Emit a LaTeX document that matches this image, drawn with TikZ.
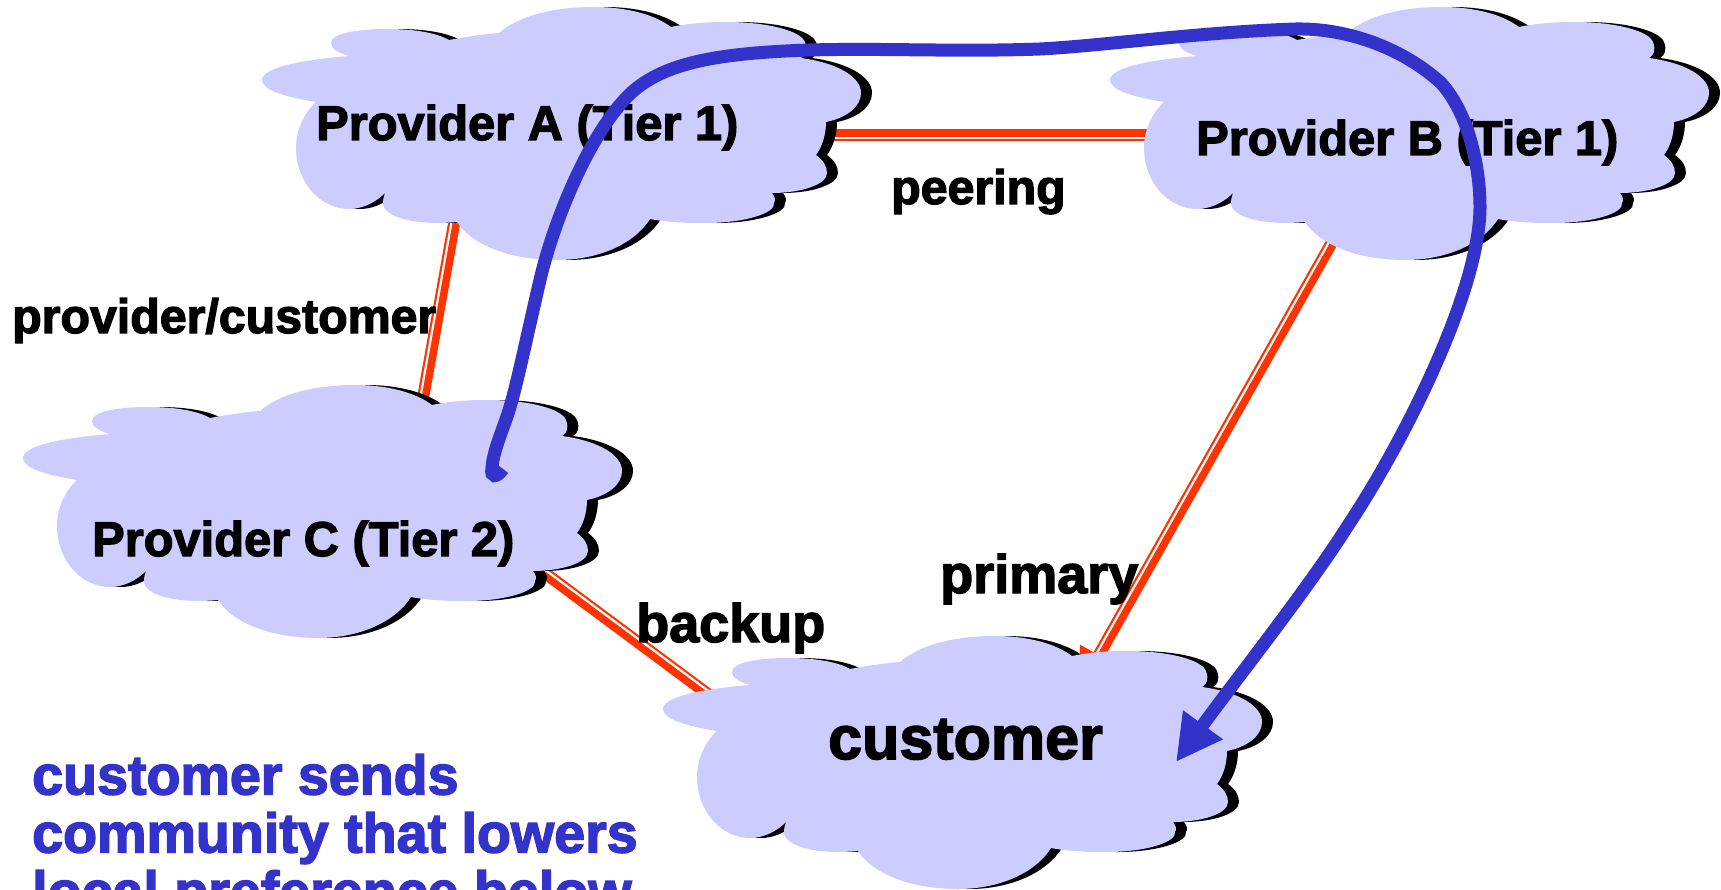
\documentclass[tikz,border=0pt]{standalone}
\usepackage{fontspec}
\setmainfont{Liberation Sans}[BoldFeatures={FakeBold=2.6}]
\usetikzlibrary{arrows.meta}
\definecolor{cloudfill}{RGB}{204,204,255}
\definecolor{linkred}{RGB}{255,51,0}
\definecolor{routeblue}{RGB}{51,51,204}
\tikzset{>=stealth}
\newcommand{\cloudoutline}{(349,56) .. controls (336,52) and (331,48) .. (331,43) .. controls (331,34) and (355,29) .. (387,29) .. controls (415,29) and (437,33) .. (449,40) .. controls (465,37) and (485,34) .. (499,33) .. controls (520,15) and (555,7) .. (594,7) .. controls (628,7) and (655,15) .. (671,27) .. controls (690,23) and (708,22) .. (727,22) .. controls (765,22) and (800,30) .. (805,42) .. controls (808,50) and (806,55) .. (801,58) .. controls (838,63) and (861,77) .. (861,93) .. controls (861,107) and (846,118) .. (826,122) .. controls (826,135) and (822,147) .. (816,155) .. controls (823,160) and (827,166) .. (827,173) .. controls (827,185) and (800,193) .. (772,193) .. controls (775,197) and (776,200) .. (774,203) .. controls (776,213) and (745,223) .. (706,223) .. controls (685,223) and (665,222) .. (650,219) .. controls (635,243) and (600,260) .. (557,260) .. controls (510,260) and (472,245) .. (457,222) .. controls (415,226) and (383,217) .. (383,203) .. controls (383,199) and (384,196) .. (385,193) .. controls (375,203) and (362,209) .. (349,209) .. controls (320,209) and (296,182) .. (296,148) .. controls (296,130) and (304,113) .. (316,102) .. controls (285,97) and (262,90) .. (262,80) .. controls (262,68) and (300,60) .. (349,56) -- cycle}
\tikzset{
  netcloud/.pic={
    \fill[black, shift={(11,0)}] \cloudoutline;
    \fill[cloudfill] \cloudoutline;
  },
  link/.style={draw=linkred, line width=12pt, postaction={draw=white, -, line width=2.2pt, transform canvas={shift={#1}}}},
  lbl/.style={anchor=base west, inner sep=0pt, font=\bfseries\fontsize{#1}{#1}\selectfont},
  route/.style={draw=routeblue, line width=13pt, -{Triangle[length=46pt, width=46pt, fill=routeblue]}}
}
\begin{document}
\begin{tikzpicture}[x=1pt, y=-1pt]
\clip (0,0) rectangle (1721,890);
\coordinate (aeast) at (800,135);
\coordinate (bwest) at (1200,135);
\coordinate (asouth) at (457,207);
\coordinate (cnorth) at (420,415);
\coordinate (bsouth) at (1340,228);
\coordinate (custnorth) at (1079,690);
\coordinate (ceast) at (530,562);
\coordinate (custwest) at (720,703);
\coordinate (routestart) at (503,469);
\coordinate (routeend) at (1176,762);
\draw[link={(0,2.8)}] (aeast) -- (bwest);
\draw[link={(-2.7,-0.5)}] (asouth) -- (cnorth);
\draw[link={(-2.3,-1.35)}, -{Triangle[length=40pt, width=40pt]}] (bsouth) -- (custnorth);
\draw[link={(1.6,-2.2)}] (ceast) -- (custwest);
\pic at (0,0) {netcloud};
\pic at (848,0) {netcloud};
\pic at (-239,378) {netcloud};
\pic at (401,629) {netcloud};
\node[lbl=48.8] (provA) at (316,140) {Provider A (Tier 1)};
\node[lbl=48.8] (provB) at (1196,155) {Provider B (Tier 1)};
\node[lbl=48.8] (provC) at (92,556) {Provider C (Tier 2)};
\node[lbl=61] (cust) at (828,759) {customer};
\node[lbl=48.3] (peering) at (891,204) {peering};
\node[lbl=48.3] (provcust) at (12,333) {provider/customer};
\node[lbl=54] (primary) at (940,593) {primary};
\node[lbl=54] (backup) at (636,642) {backup};
\node[anchor=north west, inner sep=0pt, align=left, text=routeblue, font=\bfseries\fontsize{55.6}{58}\selectfont] (sendnote) at (32,754) {customer sends\\community that lowers\\local preference below};
\draw[route] (routestart) .. controls (497,478) and (490,478) .. (492,468) .. controls (493,450) and (505,425) .. (510,407) .. controls (518,380) and (526,340) .. (540,280) .. controls (554,220) and (590,132) .. (631,93) .. controls (665,62) and (720,53) .. (810,50) .. controls (880,48) and (960,52) .. (1040,49) .. controls (1100,46) and (1200,32) .. (1296,29) .. controls (1350,28) and (1405,50) .. (1441,83) .. controls (1470,115) and (1480,170) .. (1480,207) .. controls (1480,290) and (1405,440) .. (1347,527) .. controls (1307,590) and (1237,678) .. (routeend);
\end{tikzpicture}
\end{document}
